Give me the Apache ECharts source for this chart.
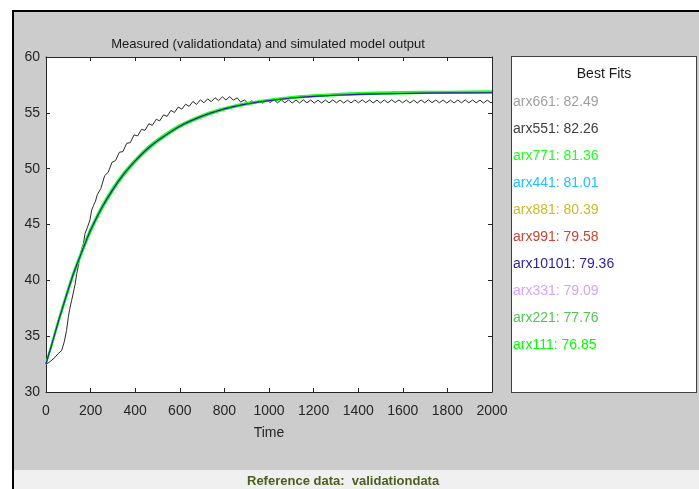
<!DOCTYPE html>
<html><head><meta charset="utf-8">
<script src="https://cdn.jsdelivr.net/npm/echarts@6/dist/echarts.min.js"></script>
<style>
html,body{margin:0;padding:0;background:#fff;overflow:hidden;}
#frame{position:absolute;left:12px;top:10px;width:687px;height:479px;background:#cccccc;border-left:2px solid #000;border-top:2px solid #000;box-sizing:border-box;}
#strip{position:absolute;left:14px;top:470px;width:685px;height:19px;background:#f0f0f0;}
#panel{position:absolute;left:511px;top:56px;width:186px;height:337px;background:#fff;border:1px solid #404040;box-sizing:border-box;}
#chart{position:absolute;left:0;top:0;width:699px;height:489px;}
</style></head><body>
<div id="frame"></div><div id="strip"></div><div id="panel"></div><div id="chart"></div>
<script>
// ---- data ----
const measuredTime = [0,10,20,40,55,70,76,82,92,100,106,115,122,130,138,145,152,160,168,175,185,197,205,213,222,
230,246,263,279,296,312,329,345,362,378,395,411,428,444,461,477,494,510,527,543,560,576,593,609,626,642,659,675,692,708,725,741,758,774,791,807,824,840,857,873,890,906,923,939,956,972,989,1005,
1022,1038,1055,1071,1088,1104,1121,1137,1154,1170,1187,1203,1220,1236,1253,1269,1286,1302,1319,1335,1352,1368,1385,1401,1418,1434,1451,1467,1484,1500,
1517,1533,1550,1566,1583,1599,1616,1632,1649,1665,1682,1698,1715,1731,1748,1764,1781,1797,1814,1830,1847,1863,1880,1896,1913,1929,1946,1962,1979,1995,2000];
const measuredValue = [32.5,32.6,32.75,33.1,33.45,33.7,33.85,34.5,35.5,36.7,37.4,38.2,38.85,39.6,40.6,41.3,42.2,42.8,43.3,44.2,44.7,45.4,46.3,46.7,47.1,
47.67,48.23,49.37,49.68,50.57,50.73,51.47,51.53,52.27,52.33,53.02,52.93,53.52,53.43,54.02,53.88,54.42,54.28,54.82,54.68,55.22,55.03,55.52,55.33,55.77,55.58,56.02,55.75,56.17,55.9,56.25,56.0,56.35,56.1,56.43,56.15,56.45,56.13,56.35,55.96,56.16,55.84,56.08,55.82,56.1,55.87,56.15,55.92,
56.16,55.9,56.17,55.9,56.15,55.88,56.14,55.89,56.16,55.9,56.15,55.88,56.13,55.88,56.15,55.9,56.16,55.9,56.14,55.88,56.13,55.89,56.15,55.9,56.16,55.91,56.15,55.89,56.14,55.88,
56.15,55.9,56.17,55.92,56.16,55.9,56.14,55.88,56.13,55.88,56.15,55.9,56.16,55.91,56.15,55.9,56.14,55.88,56.13,55.89,56.15,55.9,56.16,55.9,56.15,55.89,56.14,55.88,56.13,55.9,55.95];

const modelTime = [0,10,25,50,75,100,125,150,175,200,250,300,350,400,450,500,600,700,800,900,1000,1100,1200,1400,1600,1800,2000];
const arx661 = [32.5,33.2,34.2,35.9,37.55,39.15,40.65,41.95,43.25,44.45,46.45,48.1,49.5,50.65,51.65,52.45,53.75,54.68,55.33,55.8,56.12,56.36,56.52,56.7,56.79,56.84,56.86];
const arx551 = [32.5,33.15,34.15,35.9,37.5,39.1,40.6,41.9,43.2,44.4,46.4,48.05,49.45,50.6,51.6,52.42,53.72,54.65,55.3,55.77,56.1,56.34,56.5,56.68,56.77,56.82,56.84];
const arx771 = [32.5,33.3,34.35,36.13,37.8,39.4,40.9,42.2,43.5,44.7,46.7,48.35,49.73,50.85,51.85,52.65,53.93,54.82,55.45,55.9,56.2,56.45,56.6,56.8,56.88,56.92,56.95];
const arx441 = [32.5,33.25,34.25,36.0,37.65,39.25,40.75,42.05,43.35,44.55,46.55,48.2,49.6,50.75,51.75,52.55,53.85,54.75,55.38,55.83,56.14,56.37,56.52,56.7,56.78,56.82,56.84];
const arx881 = [32.5,33.2,34.2,35.95,37.6,39.2,40.7,42.0,43.3,44.5,46.5,48.15,49.55,50.7,51.7,52.52,53.82,54.72,55.37,55.83,56.14,56.38,56.53,56.72,56.81,56.86,56.88];
const arx991 = [32.5,33.25,34.25,36.0,37.65,39.25,40.75,42.05,43.35,44.55,46.55,48.2,49.6,50.75,51.75,52.55,53.85,54.75,55.38,55.84,56.15,56.39,56.55,56.75,56.84,56.89,56.91];
const arx10101 = [32.5,33.2,34.2,35.95,37.6,39.2,40.7,42.0,43.3,44.5,46.5,48.15,49.55,50.7,51.7,52.5,53.8,54.7,55.35,55.8,56.1,56.33,56.48,56.65,56.73,56.78,56.8];
const arx331 = [32.5,33.15,34.1,35.85,37.5,39.1,40.6,41.9,43.2,44.4,46.4,48.05,49.45,50.6,51.6,52.42,53.72,54.64,55.3,55.76,56.08,56.32,56.48,56.67,56.76,56.81,56.83];
const arx221 = [32.5,33.25,34.28,36.03,37.7,39.3,40.8,42.1,43.4,44.6,46.6,48.25,49.65,50.78,51.78,52.58,53.87,54.77,55.41,55.86,56.16,56.4,56.55,56.75,56.84,56.88,56.9];
const arx111 = [32.5,33.1,34.05,35.78,37.4,39.0,40.5,41.8,43.1,44.3,46.3,47.98,49.38,50.55,51.55,52.38,53.7,54.6,55.27,55.73,56.05,56.28,56.44,56.63,56.72,56.76,56.78];

const modelNames = ['arx661','arx551','arx771','arx441','arx881','arx991','arx10101','arx331','arx221','arx111'];
const modelFits  = ['82.49','82.26','81.36','81.01','80.39','79.58','79.36','79.09','77.76','76.85'];
const xTicks = {min:0, max:2000, step:200};
const yTicks = {min:30, max:60, step:5};

// ---- styles ----
const modelValues = {arx661, arx551, arx771, arx441, arx881, arx991, arx10101, arx331, arx221, arx111};
const modelColors = {arx661:'#a0a0a0', arx551:'#404040', arx771:'#1eff1e', arx441:'#1ec3ff', arx881:'#c8bc28',
  arx991:'#c84632', arx10101:'#2d1ea5', arx331:'#d2a5ff', arx221:'#50c850', arx111:'#00ff00'};
const modelWidths = {arx771:1.5, arx111:1.5, arx221:1.3, arx10101:1.2};
const drawOrder = ['arx661','arx551','arx441','arx881','arx991','arx331','arx221','arx111','arx771','arx10101'];
const FONT = 'Liberation Sans, Arial, sans-serif';
const AX = '#262626';

const zip = (a, b) => a.map((v, i) => [v, b[i]]);
const series = [{
  name: 'validationdata', type: 'line', showSymbol: false, animation: false,
  data: zip(measuredTime, measuredValue), lineStyle: {color: '#2a2a2a', width: 1}, itemStyle:{color:'#2a2a2a'}, z: 2
}];
drawOrder.forEach((n, k) => series.push({
  name: n, type: 'line', showSymbol: false, animation: false,
  data: zip(modelTime, modelValues[n]), smooth: 0.25,
  lineStyle: {color: modelColors[n], width: modelWidths[n] || 1}, itemStyle: {color: modelColors[n]}, z: 3 + k
}));
const fitOf = {}; modelNames.forEach((n, i) => fitOf[n] = modelFits[i]);

const axisCommon = {
  type: 'value', splitLine: {show: false},
  axisLine: {show: true, onZero: false, lineStyle: {color: AX, width: 1}},
  axisTick: {show: true, inside: true, length: 4, lineStyle: {color: AX}},
};
const chart = echarts.init(document.getElementById('chart'), null, {renderer: 'canvas'});
chart.setOption({
  backgroundColor: 'transparent',
  animation: false,
  grid: {left: 46, top: 57, width: 446, height: 335, show: true, backgroundColor: '#fff', borderWidth: 0},
  xAxis: [
    Object.assign({}, axisCommon, {min: xTicks.min, max: xTicks.max, interval: xTicks.step, position: 'bottom',
      axisLabel: {fontSize: 14, color: AX, margin: 12, fontFamily: FONT, formatter: v => String(v)},
      name: 'Time', nameLocation: 'middle', nameGap: 34, nameTextStyle: {fontSize: 14, color: AX, fontFamily: FONT}}),
    Object.assign({}, axisCommon, {min: xTicks.min, max: xTicks.max, interval: xTicks.step, position: 'top', axisLabel: {show: false}})
  ],
  yAxis: [
    Object.assign({}, axisCommon, {min: yTicks.min, max: yTicks.max, interval: yTicks.step, position: 'left',
      axisLabel: {fontSize: 14, color: AX, margin: 6, fontFamily: FONT, formatter: v => String(v)}}),
    Object.assign({}, axisCommon, {min: yTicks.min, max: yTicks.max, interval: yTicks.step, position: 'right', axisLabel: {show: false}})
  ],
  legend: {
    orient: 'vertical', left: 508, top: 95, padding: 0, itemGap: 13, itemWidth: 0, itemHeight: 14, icon: 'none',
    selectedMode: false,
    data: modelNames.map(n => ({name: n, textStyle: {color: modelColors[n]}})),
    formatter: n => n + ': ' + fitOf[n],
    textStyle: {fontSize: 14, fontFamily: FONT, lineHeight: 14}
  },
  graphic: [
    {type: 'text', x: 268, y: 44, style: {text: 'Measured (validationdata) and simulated model output', fill: '#1a1a1a',
      font: '13px ' + FONT, textAlign: 'center', textVerticalAlign: 'middle'}},
    {type: 'text', x: 604, y: 74, style: {text: 'Best Fits', fill: '#1a1a1a', font: '14px ' + FONT, textAlign: 'center', textVerticalAlign: 'middle'}},
    {type: 'text', x: 247, y: 481, style: {text: 'Reference data:  validationdata', fill: '#4b5f1f', font: 'bold 13px ' + FONT, textAlign: 'left', textVerticalAlign: 'middle'}}
  ],
  series: series
});
</script>
</body></html>
